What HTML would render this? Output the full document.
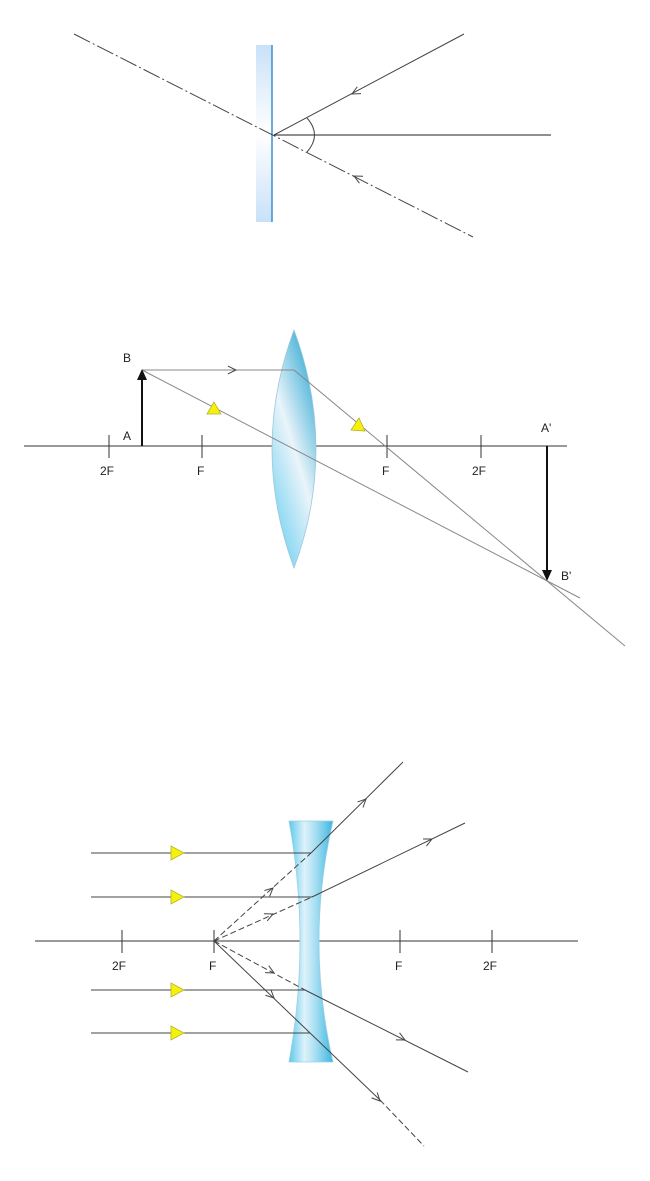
<!DOCTYPE html>
<html><head><meta charset="utf-8"><style>html,body{margin:0;padding:0;background:#fff}svg{display:block}</style></head>
<body>
<svg id="s" width="650" height="1181" viewBox="0 0 650 1181" xmlns="http://www.w3.org/2000/svg" font-family="Liberation Sans, sans-serif" font-size="12">
<defs>
<linearGradient id="mg" x1="0" y1="0" x2="0" y2="1">
<stop offset="0" stop-color="#c9e1f8"/><stop offset="0.5" stop-color="#ffffff"/><stop offset="1" stop-color="#c9e1f8"/></linearGradient>
<linearGradient id="cv" x1="0.8" y1="0" x2="0.2" y2="1">
<stop offset="0" stop-color="#2aa6d2"/><stop offset="0.5" stop-color="#eaf4fa"/><stop offset="1" stop-color="#6ed0f0"/></linearGradient>
<linearGradient id="cc" x1="0" y1="0" x2="1" y2="0">
<stop offset="0" stop-color="#5cc8ec"/><stop offset="0.35" stop-color="#def2fa"/><stop offset="0.6" stop-color="#a8dff2"/><stop offset="1" stop-color="#3bb6e0"/></linearGradient>
</defs>
<!-- top mirror -->
<rect x="256" y="45" width="16" height="177" fill="url(#mg)"/>
<line x1="272" y1="45" x2="272" y2="222" stroke="#3a8fd8" stroke-width="1.5"/>
<line x1="74" y1="34" x2="473" y2="237" stroke="#444" stroke-dasharray="18,3,2,3"/>
<line x1="464" y1="34" x2="274" y2="135" stroke="#444"/>
<line x1="274" y1="135" x2="551" y2="135" stroke="#222"/>
<path d="M307,118 Q322,135 307,152" fill="none" stroke="#444"/>
<!-- middle -->
<line x1="24" y1="446" x2="567" y2="446" stroke="#333"/>
<g stroke="#333"><line x1="109" y1="435" x2="109" y2="458"/><line x1="202" y1="435" x2="202" y2="458"/><line x1="387" y1="435" x2="387" y2="458"/><line x1="481" y1="435" x2="481" y2="458"/></g>
<path d="M294,330 Q250,449 294,568 Q338,449 294,330 Z" fill="url(#cv)" stroke="#9cc8dc" stroke-width="0.8"/>
<g stroke="#888" fill="none">
<line x1="142" y1="370" x2="294" y2="370"/>
<line x1="294" y1="370" x2="625" y2="646"/>
<line x1="142" y1="370" x2="580" y2="598"/>
</g>
<line x1="142" y1="446" x2="142" y2="378" stroke="#111" stroke-width="2"/>
<polygon points="142,369 137,380 147,380" fill="#111"/>
<line x1="547" y1="446" x2="547" y2="570" stroke="#111" stroke-width="2"/>
<polygon points="547,581 542,570 552,570" fill="#111"/>
<g fill="#222">
<text x="123" y="362">B</text><text x="123" y="440">A</text>
<text x="100" y="475">2F</text><text x="197" y="475">F</text><text x="382" y="475">F</text><text x="472" y="475">2F</text>
<text x="541" y="432">A'</text><text x="561" y="580">B'</text>
<text x="112" y="970">2F</text><text x="209" y="970">F</text><text x="395" y="970">F</text><text x="483" y="970">2F</text>
</g>
<!-- bottom -->
<line x1="35" y1="941" x2="578" y2="941" stroke="#333"/>
<g stroke="#333"><line x1="122" y1="930" x2="122" y2="953"/><line x1="214" y1="930" x2="214" y2="953"/><line x1="400" y1="930" x2="400" y2="953"/><line x1="492" y1="930" x2="492" y2="953"/></g>
<path d="M289,821 L333,821 Q305,941 333,1062 L289,1062 Q311,941 289,821 Z" fill="url(#cc)" stroke="#9cd0e4" stroke-width="0.8"/>
<g stroke="#444" fill="none">
<line x1="91" y1="853" x2="311" y2="853"/>
<line x1="91" y1="897" x2="312" y2="897"/>
<line x1="91" y1="990" x2="305" y2="990"/>
<line x1="91" y1="1033" x2="310" y2="1033"/>
<line x1="214" y1="941" x2="311" y2="853" stroke-dasharray="6,3"/>
<line x1="311" y1="853" x2="403" y2="762"/>
<line x1="214" y1="941" x2="312" y2="897" stroke-dasharray="6,3"/>
<line x1="312" y1="897" x2="465" y2="823"/>
<line x1="214" y1="941" x2="305" y2="990" stroke-dasharray="6,3"/>
<line x1="305" y1="990" x2="468" y2="1072"/>
<line x1="214" y1="941" x2="380" y2="1100"/>
<line x1="380" y1="1100" x2="424" y2="1146" stroke-dasharray="6,3"/>
</g>
<g id="arr" stroke="#444" fill="none"></g>
<g id="tri" fill="#f5f20a" stroke="#b8b030" stroke-width="0.8"></g>
</svg>
<script>
function chev(x,y,dx,dy,L){L=L||9;var a=Math.atan2(dy,dx),s=0.45;
var p1=[x-L*Math.cos(a-s),y-L*Math.sin(a-s)],p2=[x-L*Math.cos(a+s),y-L*Math.sin(a+s)];
return '<polyline points="'+p1+' '+x+','+y+' '+p2+'"/>';}
var h='';
h+=chev(352,94,-190,101);h+=chev(354,176,-199,-102);
h+=chev(236,370,1,0);
h+=chev(366,799,92,-91);h+=chev(273,888,97,-88);
h+=chev(432,839,153,-74);h+=chev(273,914,98,-44);
h+=chev(274,973,91,49);h+=chev(405,1040,163,82);
h+=chev(274,998,166,159);h+=chev(380,1101,44,46);
document.getElementById('arr').innerHTML=h;
var t='';
t+='<polygon points="214,402 207,414 221,414"/>';
t+='<polygon points="359,418 351,430 365,431"/>';
[853,897,990,1033].forEach(function(y){t+='<polygon points="171,'+(y-7)+' 171,'+(y+7)+' 184,'+y+'"/>';});
document.getElementById('tri').innerHTML=t;
</script>
</body></html>
